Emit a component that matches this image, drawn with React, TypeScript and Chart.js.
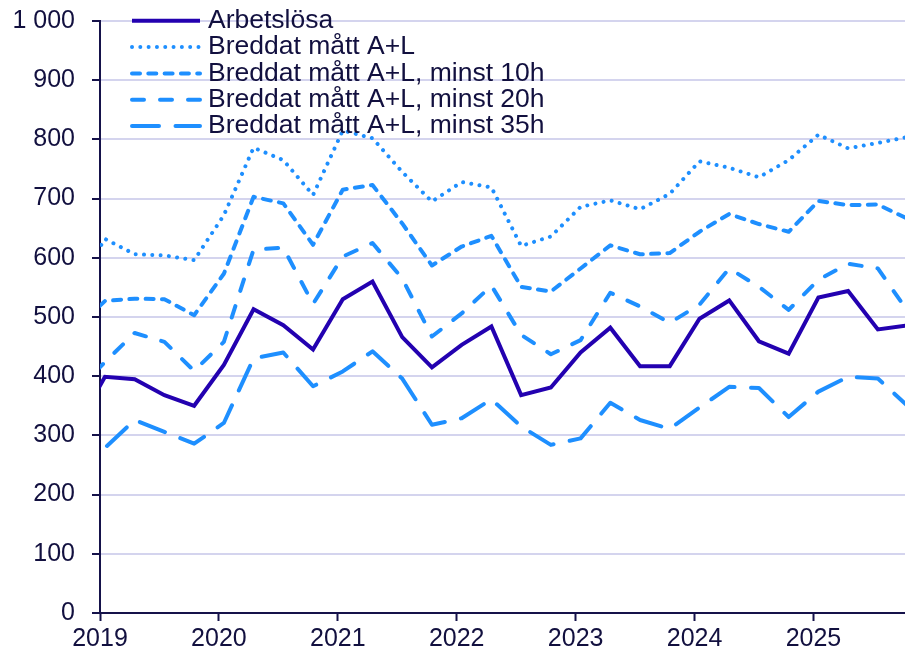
import React, { useEffect, useRef } from "react";
import { Chart, registerables } from "chart.js";

Chart.register(...registerables);

// ---- Data -------------------------------------------------------------
const quarters = [
  "2018K4",
  "2019K1", "2019K2", "2019K3", "2019K4",
  "2020K1", "2020K2", "2020K3", "2020K4",
  "2021K1", "2021K2", "2021K3", "2021K4",
  "2022K1", "2022K2", "2022K3", "2022K4",
  "2023K1", "2023K2", "2023K3", "2023K4",
  "2024K1", "2024K2", "2024K3", "2024K4",
  "2025K1", "2025K2", "2025K3", "2025K4",
];

const yearLabels = ["2019", "2020", "2021", "2022", "2023", "2024", "2025"];

const seriesNames = [
  "Arbetslösa",
  "Breddat mått A+L",
  "Breddat mått A+L, minst 10h",
  "Breddat mått A+L, minst 20h",
  "Breddat mått A+L, minst 35h",
];

const arbetslosa = [
  310,
  399, 395, 368, 350,
  419, 513, 486, 445,
  530, 560, 466, 415,
  453, 484, 368, 381,
  440, 482, 417, 417,
  497, 528, 459, 438,
  533, 544, 479, 486,
];

const breddat = [
  550,
  632, 606, 604, 596,
  672, 786, 765, 706,
  815, 802, 745, 695,
  728, 719, 620, 636,
  686, 697, 682, 708,
  763, 752, 736, 765,
  808, 785, 794, 804,
];

const minst10h = [
  480,
  527, 531, 530, 503,
  573, 703, 692, 622,
  715, 723, 658, 587,
  619, 637, 551, 543,
  582, 621, 606, 608,
  644, 674, 657, 644,
  696, 689, 690, 666,
];

const minst20h = [
  372,
  424, 473, 458, 409,
  458, 614, 617, 522,
  602, 625, 565, 467,
  506, 553, 470, 437,
  461, 541, 518, 490,
  521, 582, 551, 512,
  563, 590, 582, 510,
];

const minst35h = [
  232,
  279, 326, 306, 286,
  321, 430, 440, 383,
  408, 442, 396, 318,
  329, 361, 315, 284,
  295, 355, 326, 311,
  347, 382, 380, 331,
  374, 399, 396, 350,
];

// ---- Styles -------------------------------------------------------------
const TEXT = "#12103f";
const AXIS = "#15124a";
const GRID = "#d4d4ee";
const DARK = "#2301b0";
const BLUE = "#1e8fff";
const FONT = "'Liberation Sans', Arial, Helvetica, sans-serif";

// quarter label -> position on a linear year axis (mid first month of quarter)
function quarterToX(q: string): number {
  const year = parseInt(q.slice(0, 4), 10);
  const k = parseInt(q.slice(5), 10);
  return year + (k - 1) / 4 + 1 / 24;
}

function toPoints(values: number[]) {
  return values.map((v, i) => ({ x: quarterToX(quarters[i]), y: v }));
}

function formatThousands(v: number): string {
  return String(v).replace(/\B(?=(\d{3})+(?!\d))/g, " ");
}

const insideLegend = {
  id: "insideLegend",
  afterDatasetsDraw(chart: any) {
    const ctx = chart.ctx as CanvasRenderingContext2D;
    chart.data.datasets.forEach((ds: any, i: number) => {
      const y = 20.7 + i * 26.35;
      ctx.save();
      ctx.strokeStyle = ds.borderColor;
      ctx.lineWidth = ds.borderWidth;
      ctx.lineCap = ds.borderCapStyle || "butt";
      ctx.setLineDash(ds.borderDash || []);
      ctx.beginPath();
      ctx.moveTo(132, y);
      ctx.lineTo(200, y);
      ctx.stroke();
      ctx.setLineDash([]);
      ctx.fillStyle = TEXT;
      ctx.font = `26.5px ${FONT}`;
      ctx.textBaseline = "middle";
      ctx.textAlign = "left";
      ctx.fillText(ds.label, 208, y);
      ctx.restore();
    });
  },
};

export default function App() {
  const canvasRef = useRef<HTMLCanvasElement | null>(null);

  useEffect(() => {
    if (!canvasRef.current) return;
    Chart.defaults.font.family = FONT;
    Chart.defaults.font.size = 25;
    Chart.defaults.color = TEXT;

    const common = {
      pointRadius: 0,
      pointHoverRadius: 0,
      tension: 0,
      fill: false,
      clip: 0,
      borderCapStyle: "round",
    };

    const chart = new Chart(canvasRef.current, {
      type: "line",
      data: {
        datasets: [
          {
            ...common,
            label: seriesNames[0],
            data: toPoints(arbetslosa),
            borderColor: DARK,
            backgroundColor: DARK,
            borderWidth: 4,
            borderJoinStyle: "miter",
            borderCapStyle: "butt",
          },
          {
            ...common,
            label: seriesNames[1],
            data: toPoints(breddat),
            borderColor: BLUE,
            backgroundColor: BLUE,
            borderWidth: 4,
            borderDash: [0.01, 8.3],
            borderJoinStyle: "round",
          },
          {
            ...common,
            label: seriesNames[2],
            data: toPoints(minst10h),
            borderColor: BLUE,
            backgroundColor: BLUE,
            borderWidth: 4,
            borderDash: [8, 8.3],
            borderJoinStyle: "round",
          },
          {
            ...common,
            label: seriesNames[3],
            data: toPoints(minst20h),
            borderColor: BLUE,
            backgroundColor: BLUE,
            borderWidth: 4,
            borderDash: [12, 16],
            borderJoinStyle: "round",
          },
          {
            ...common,
            label: seriesNames[4],
            data: toPoints(minst35h),
            borderColor: BLUE,
            backgroundColor: BLUE,
            borderWidth: 4,
            borderDash: [27, 16.5],
            borderJoinStyle: "round",
          },
        ] as any,
      },
      options: {
        responsive: false,
        maintainAspectRatio: false,
        animation: false,
        devicePixelRatio: 1,
        events: [],
        layout: { padding: { top: 21, right: 0, bottom: 0, left: 0 } },
        plugins: {
          legend: { display: false },
          tooltip: { enabled: false },
        },
        scales: {
          x: {
            type: "linear",
            min: 2019,
            max: 2025.77,
            ticks: {
              stepSize: 1,
              includeBounds: false,
              autoSkip: false,
              maxRotation: 0,
              minRotation: 0,
              padding: 3,
              color: TEXT,
              font: { size: 25, family: FONT },
              callback: (v: any) => {
                const idx = yearLabels.indexOf(String(Math.round(Number(v))));
                return idx >= 0 && Math.abs(Number(v) - Math.round(Number(v))) < 1e-6
                  ? yearLabels[idx]
                  : "";
              },
            },
            grid: {
              drawOnChartArea: false,
              drawTicks: true,
              tickLength: 8,
              tickColor: AXIS,
              tickWidth: 2,
            },
            border: { display: true, color: AXIS, width: 2 },
            afterFit: (s: any) => {
              s.height = 45;
              s.paddingLeft = 0;
              s.paddingRight = 0;
            },
          },
          y: {
            type: "linear",
            min: 0,
            max: 1000,
            ticks: {
              stepSize: 100,
              padding: 17,
              color: TEXT,
              font: { size: 25, family: FONT },
              callback: (v: any) => formatThousands(Number(v)),
            },
            grid: {
              color: (c: any) => (c.tick && c.tick.value === 0 ? "rgba(0,0,0,0)" : GRID),
              lineWidth: 2,
              drawTicks: true,
              tickLength: 8,
              tickColor: AXIS,
              tickWidth: 2,
            },
            border: { display: true, color: AXIS, width: 2 },
            afterFit: (s: any) => {
              s.width = 100;
              s.paddingTop = 0;
              s.paddingBottom = 0;
            },
          },
        },
      } as any,
      plugins: [insideLegend],
    });

    return () => {
      chart.destroy();
    };
  }, []);

  return (
    <div
      style={{
        position: "fixed",
        left: 0,
        top: 0,
        width: 905,
        height: 658,
        background: "#ffffff",
      }}
    >
      <canvas ref={canvasRef} width={905} height={658} style={{ display: "block" }} />
    </div>
  );
}
